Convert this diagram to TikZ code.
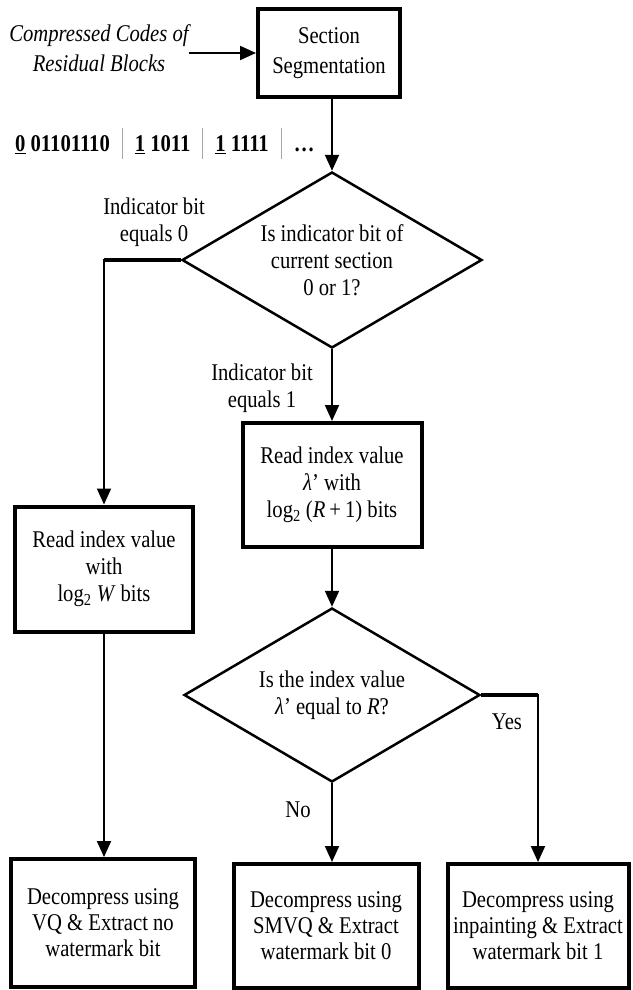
\documentclass[tikz,border=0pt]{standalone}
\usepackage{fontspec}
\setmainfont{Liberation Serif}[FakeStretch=0.86]
\usetikzlibrary{shapes.geometric,arrows.meta}

\newcommand{\bitsep}{\hspace{12pt}\textcolor{gray!70}{\rule[-7pt]{1pt}{31pt}}\hspace{12pt}}

\begin{document}
\begin{tikzpicture}[x=1pt,y=-1pt,
    font=\fontsize{24}{27}\selectfont,
    procbox/.style={draw,line width=4pt,align=center,inner sep=0pt},
    decision/.style={draw,diamond,line width=2.5pt,align=center,inner sep=0pt,aspect=1.7},
    flow/.style={line width=2pt,-{Triangle[length=16pt,width=14pt]}},
    heavy/.style={line width=3.5pt},
    note/.style={align=center,inner sep=0pt}]
\useasboundingbox (0,0) rectangle (632,990);

\node[note,font=\fontsize{24}{30}\selectfont\itshape] (src) at (99,48) {Compressed Codes of\\Residual Blocks};
\node[procbox,minimum width=142pt,minimum height=87pt,font=\fontsize{24}{30}\selectfont] (seg) at (329,53) {Section\\Segmentation};
\node[note,anchor=west] (bits) at (15,143) {\textbf{\underline{0} 01101110}\bitsep\textbf{\underline{1} 1011}\bitsep\textbf{\underline{1} 1111}\bitsep\textbf{\dots}};

% first test
\node[decision,minimum width=300pt,minimum height=176pt] (dec1) at (332,260) {Is indicator bit of\\current section\\0 or 1?};
\node[procbox,minimum width=179pt,minimum height=124pt] (rd1) at (332,485) {Read index value\\\textit{λ}’ with\\log\textsubscript{2} (\textit{R}\,+\,1) bits};
\node[procbox,minimum width=178pt,minimum height=125pt] (rd0) at (104,569) {Read index value\\with\\log\textsubscript{2} \textit{W} bits};

% second test
\node[decision,minimum width=296pt,minimum height=174pt] (dec2) at (332,695) {Is the index value\\\textit{λ}’ equal to \textit{R}?};

% outputs
\node[procbox,minimum width=184pt,minimum height=128pt,font=\fontsize{24}{26}\selectfont] (out0) at (103,923) {Decompress using\\VQ \& Extract no\\watermark bit};
\node[procbox,minimum width=185pt,minimum height=124pt,font=\fontsize{24}{26}\selectfont] (out1) at (326,926) {Decompress using\\SMVQ \& Extract\\watermark bit 0};
\node[procbox,minimum width=181pt,minimum height=124pt,font=\fontsize{24}{26}\selectfont] (out2) at (538,926) {Decompress using\\inpainting \& Extract\\watermark bit 1};

\node[note] (lab0) at (154,222) {Indicator bit\\equals 0};
\node[note] (lab1) at (262,388) {Indicator bit\\equals 1};
\node[note] (labyes) at (507,722) {Yes};
\node[note] (labno) at (298,810) {No};

\draw[flow] (src.east |- seg.west) -- (seg.west);
\draw[flow] (seg.south -| dec1.north) -- (dec1.north);
\draw[heavy] (dec1.west) -- (rd0.north |- dec1.west);
\draw[flow] (dec1.west) -| (rd0.north);
\draw[flow] (dec1.south) -- (rd1.north);
\draw[flow] (rd1.south) -- (dec2.north);
\draw[flow] (rd0.south) -- (rd0.south |- out0.north);
\draw[flow] (dec2.south) -- (dec2.south |- out1.north);
\draw[heavy] (dec2.east) -- (out2.north |- dec2.east);
\draw[flow] (dec2.east) -| (out2.north);
\end{tikzpicture}
\end{document}
